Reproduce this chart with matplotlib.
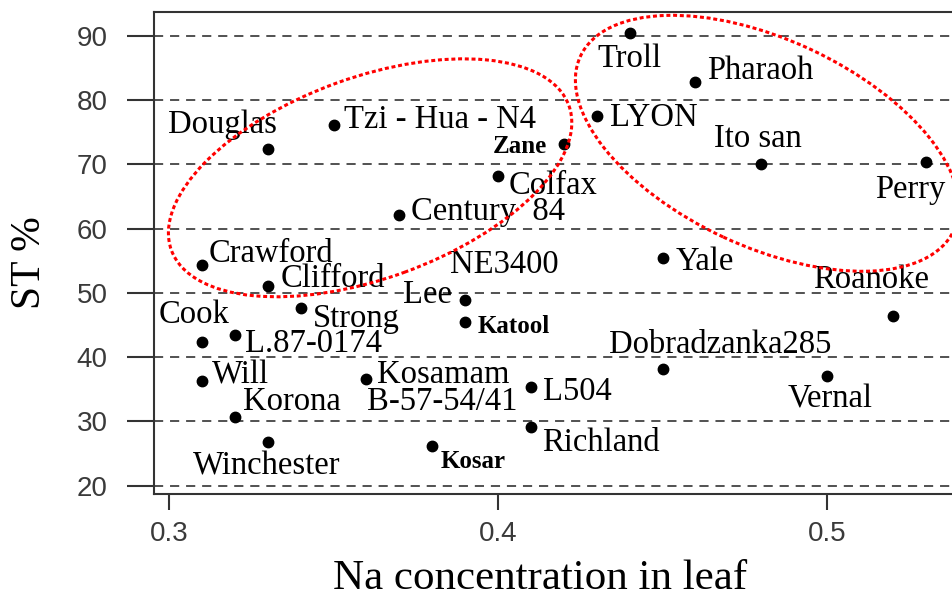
import matplotlib
matplotlib.use('Agg')
import matplotlib.pyplot as plt
from matplotlib.patches import Ellipse
from matplotlib.transforms import ScaledTranslation

# cultivar data
names = ['Troll', 'Pharaoh', 'LYON', 'Ito san', 'Perry', 'Zane', 'Colfax',
         'Century  84', 'Tzi - Hua - N4', 'Douglas', 'Crawford', 'Clifford',
         'Lee', 'Strong', 'Katool', 'Cook', 'L.87-0174', 'Will', 'Kosamam',
         'Korona', 'Winchester', 'Kosar', 'L504', 'Richland',
         'Dobradzanka285', 'Vernal', 'Yale', 'Roanoke']
na_leaf = [0.44, 0.46, 0.43, 0.48, 0.53, 0.42, 0.40,
           0.37, 0.35, 0.33, 0.31, 0.33,
           0.39, 0.34, 0.39, 0.31, 0.32, 0.31, 0.36,
           0.32, 0.33, 0.38, 0.41, 0.41,
           0.45, 0.50, 0.45, 0.52]
st_pct = [90.5, 82.8, 77.5, 70.1, 70.4, 73.2, 68.2,
          62.1, 76.1, 72.4, 54.4, 51.1,
          48.9, 47.7, 45.5, 42.4, 43.5, 36.3, 36.6,
          30.7, 26.8, 26.2, 35.4, 29.1,
          38.2, 37.0, 55.4, 46.4]

# extra labels sharing a point with another cultivar
extra_names = ['NE3400', 'B-57-54/41']
extra_anchor = ['Lee', 'Kosamam']

x_ticks = [0.3, 0.4, 0.5]
y_ticks = [20, 30, 40, 50, 60, 70, 80, 90]

# label offsets in pixels (left edge, baseline) relative to the point
offsets = {
    'Troll': (-32, 34), 'Pharaoh': (12, -3), 'LYON': (13, 10),
    'Ito san': (-47, -17), 'Perry': (-51, 36), 'Zane': (-71, 9),
    'Colfax': (11, 18), 'Century  84': (12, 5), 'Tzi - Hua - N4': (10, 3),
    'Douglas': (-100, -16), 'Crawford': (7, -3), 'Clifford': (13, 1),
    'Lee': (-62, 3), 'Strong': (12, 19), 'Katool': (12, 11),
    'Cook': (-43, -19), 'L.87-0174': (10, 17), 'Will': (10, 3),
    'Kosamam': (11, 4), 'Korona': (8, -7), 'Winchester': (-75, 33),
    'Kosar': (8, 22), 'L504': (12, 13), 'Richland': (11, 24),
    'Dobradzanka285': (-54, -16), 'Vernal': (-39, 31), 'Yale': (13, 12),
    'Roanoke': (-80, -28), 'NE3400': (-15, -27), 'B-57-54/41': (1, 31),
}
bold_small = ['Zane', 'Katool', 'Kosar']

serif = ['Liberation Serif', 'DejaVu Serif']
sans = ['Liberation Sans', 'DejaVu Sans']

fig = plt.figure(figsize=(9.52, 5.99), dpi=100)
ax = fig.add_axes([154 / 952, 1 - 494 / 599, 1 - 154 / 952, (494 - 12) / 599])

ax.set_xlim(0.2954, 0.538)
ax.set_ylim(18.7, 93.7)
ax.set_xticks(x_ticks)
ax.set_yticks(y_ticks)
ax.set_xticklabels([str(v) for v in x_ticks], family=sans, fontsize=20, color='#3a3a3a')
ax.set_yticklabels([str(v) for v in y_ticks], family=sans, fontsize=20, color='#3a3a3a')
ax.tick_params(axis='y', length=19.4, width=1.5, color='#333333', pad=14)
ax.tick_params(axis='x', length=11.5, width=1.5, color='#333333', pad=8)

for side in ['top', 'left', 'bottom']:
    ax.spines[side].set_linewidth(1.5)
    ax.spines[side].set_color('#333333')
ax.spines['right'].set_visible(False)

ax.grid(axis='y', color='#222222', linewidth=1.1, linestyle=(0, (6, 4.5)))
ax.set_axisbelow(True)

ax.plot(na_leaf, st_pct, 'o', color='black', markersize=7.5, zorder=3)

pos = dict(zip(names, zip(na_leaf, st_pct)))
for n, a in zip(extra_names, extra_anchor):
    pos[n] = pos[a]

for n, (xv, yv) in pos.items():
    dx, dy = offsets[n]
    if n in bold_small:
        kw = dict(fontsize=18, fontweight='bold')
    else:
        kw = dict(fontsize=23.5)
    ax.annotate(n, (xv, yv), xytext=(dx, -dy), textcoords='offset pixels',
                ha='left', va='baseline', family=serif, color='black',
                zorder=4, **kw)

# red dotted ellipses (sizes in inches, centred on a data position)
ellipses = [((0.3611, 67.9), 4.23, 2.01, 20), ((0.4818, 73.27), 4.12, 2.07, -25)]
for (cx, cy), w, h, ang in ellipses:
    tr = fig.dpi_scale_trans + ScaledTranslation(cx, cy, ax.transData)
    e = Ellipse((0, 0), w, h, angle=ang, transform=tr, fill=False,
                edgecolor='#ff0000', linewidth=2.2, linestyle=(0, (1.3, 0.9)),
                capstyle='butt', zorder=5, clip_on=False)
    ax.add_patch(e)

fig.text(540 / 952, 1 - 598 / 599, 'Na concentration in leaf', family=serif,
         fontsize=31, ha='center', va='bottom')
fig.text(30 / 952, 1 - 263 / 599, 'ST %', family=serif, fontsize=30,
         rotation=90, ha='center', va='center')

fig.savefig('out.png', dpi=100)
